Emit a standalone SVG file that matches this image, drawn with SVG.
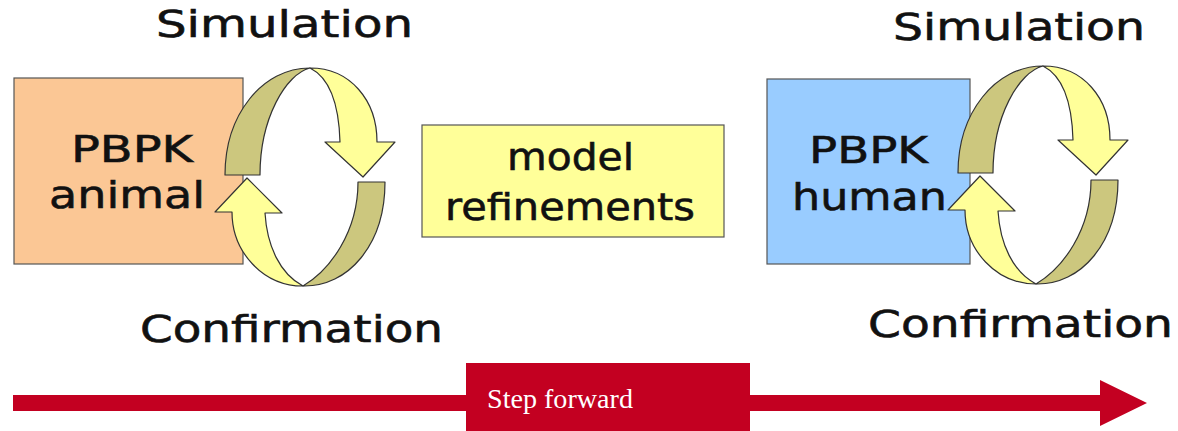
<svg xmlns="http://www.w3.org/2000/svg" xmlns:xlink="http://www.w3.org/1999/xlink" width="1178" height="431" viewBox="0 0 1178 431">
  <style>
    .lbl { font-family: "DejaVu Sans", Verdana, sans-serif; font-size: 38px; fill: #111; stroke: #111; stroke-width: 0.6; }
    .box { stroke: #555; stroke-width: 1.2; }
    .back { fill: #CCC77E; stroke: #333; stroke-width: 1.2; stroke-linejoin: round; }
    .front { fill: #FFFF99; stroke: #333; stroke-width: 1.2; stroke-linejoin: round; }
    .step { font-family: "Liberation Serif", "Times New Roman", serif; font-size: 27px; fill: #fff; }
  </style>
  <defs>
    <!-- twisted ribbon cycle: two curved arrows chasing each other -->
    <g id="cycle">
      <path class="back" d="M225,175 C225,115 262,68 310,68 C286,74 260,118 260,175 Z"/>
      <path class="front" d="M310,68 C350,68 377,100 377,142 L395,142 L363,177 L325,142 L340,142 C339,106 330,78 310,68 Z"/>
      <path class="back" d="M385,182 C385,245 348,287 303,286 C330,270 358,232 358,182 Z"/>
      <path class="front" d="M303,286 C263,286 232,252 232,212 L215,212 L247,178 L282,213 L265,213 C267,246 280,274 303,286 Z"/>
    </g>
  </defs>

  <!-- animal model -->
  <g id="pbpk-animal">
    <rect class="box" x="14" y="78" width="229" height="186" fill="#FBC795"/>
    <text class="lbl" x="132" y="162" text-anchor="middle" textLength="122" lengthAdjust="spacingAndGlyphs">PBPK</text>
    <text class="lbl" x="127" y="208" text-anchor="middle" textLength="156" lengthAdjust="spacingAndGlyphs">animal</text>
  </g>

  <g id="cycle-animal">
    <use xlink:href="#cycle" href="#cycle"/>
  </g>

  <g id="sim-animal">
    <text class="lbl" x="284.5" y="37" text-anchor="middle" textLength="257" lengthAdjust="spacingAndGlyphs">Simulation</text>
  </g>
  <g id="conf-animal">
    <text class="lbl" x="291.5" y="342" text-anchor="middle" textLength="303" lengthAdjust="spacingAndGlyphs">Confirmation</text>
  </g>

  <!-- refinement step -->
  <g id="refinements">
    <rect class="box" x="422" y="125" width="302" height="112" fill="#FFFF99"/>
    <text class="lbl" x="570.5" y="170" text-anchor="middle" textLength="127" lengthAdjust="spacingAndGlyphs">model</text>
    <text class="lbl" x="570" y="220" text-anchor="middle" textLength="250" lengthAdjust="spacingAndGlyphs">refinements</text>
  </g>

  <!-- human model -->
  <g id="pbpk-human">
    <rect class="box" x="767" y="79" width="203" height="185" fill="#99CCFF"/>
    <text class="lbl" x="868.5" y="163" text-anchor="middle" textLength="119" lengthAdjust="spacingAndGlyphs">PBPK</text>
    <text class="lbl" x="869.5" y="210" text-anchor="middle" textLength="155" lengthAdjust="spacingAndGlyphs">human</text>
  </g>

  <g id="cycle-human">
    <use xlink:href="#cycle" href="#cycle" transform="translate(733,-2)"/>
  </g>

  <g id="sim-human">
    <text class="lbl" x="1019" y="40" text-anchor="middle" textLength="252" lengthAdjust="spacingAndGlyphs">Simulation</text>
  </g>
  <g id="conf-human">
    <text class="lbl" x="1020.5" y="337" text-anchor="middle" textLength="305" lengthAdjust="spacingAndGlyphs">Confirmation</text>
  </g>

  <!-- progress arrow along the bottom -->
  <g id="connectors">
    <path d="M13,395 L1100,395 L1100,380 L1147,403 L1100,426 L1100,411 L13,411 Z" fill="#C30021"/>
  </g>
  <g id="step-forward">
    <rect x="466" y="363" width="284" height="68" fill="#C30021"/>
    <text class="step" x="487" y="408" textLength="146" lengthAdjust="spacingAndGlyphs">Step forward</text>
  </g>
</svg>
